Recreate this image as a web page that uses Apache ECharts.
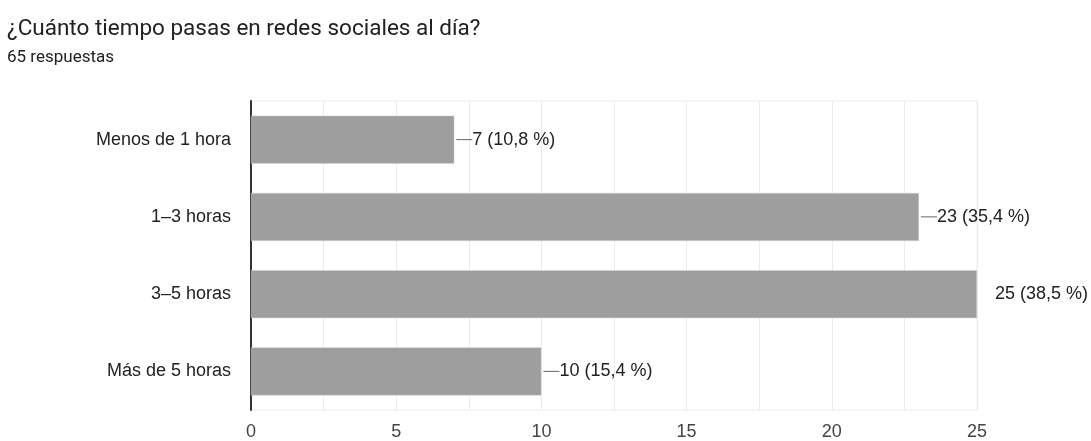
<!DOCTYPE html>
<html>
<head>
<meta charset="utf-8">
<script src="https://cdn.jsdelivr.net/npm/echarts@6/dist/echarts.min.js"></script>
<style>
html,body{margin:0;padding:0;background:#fff;}
#c{width:1091px;height:441px;}
</style>
</head>
<body>
<div id="c"></div>
<script>
var categories = ['Menos de 1 hora', '1–3 horas', '3–5 horas', 'Más de 5 horas'];
var counts = [7, 23, 25, 10];
var percentLabels = ['10,8 %', '35,4 %', '38,5 %', '15,4 %'];
var xTicks = [0, 5, 10, 15, 20, 25];
var xMax = 25;

var chart = echarts.init(document.getElementById('c'));
chart.setOption({
  animation: false,
  backgroundColor: '#ffffff',
  textStyle: { fontFamily: 'Liberation Sans' },
  title: {
    text: '¿Cuánto tiempo pasas en redes sociales al día?',
    subtext: '65 respuestas',
    left: 2, top: 13,
    itemGap: 8,
    textStyle: { fontFamily: 'Roboto', fontSize: 22.5, fontWeight: 'normal', color: '#202124' },
    subtextStyle: { fontFamily: 'Roboto', fontSize: 17, color: '#202124' }
  },
  grid: {
    left: 251, right: 114, top: 101, bottom: 28,
    show: true, borderColor: '#ececec', borderWidth: 1
  },
  xAxis: {
    type: 'value', min: 0, max: xMax, interval: 2.5,
    axisLine: { show: false },
    axisTick: { show: false },
    splitLine: { lineStyle: { color: '#ececec', width: 1 } },
    axisLabel: {
      margin: 13, fontSize: 18, color: '#444', fontFamily: 'Liberation Sans',
      formatter: function (v) { return xTicks.indexOf(v) >= 0 ? String(v) : ''; }
    }
  },
  yAxis: {
    type: 'category', data: categories, inverse: true,
    axisLine: { show: true, lineStyle: { color: '#333', width: 2 } },
    axisTick: { show: false },
    axisLabel: { margin: 20, fontSize: 18, color: '#222', fontFamily: 'Liberation Sans' }
  },
  series: [{
    type: 'bar',
    data: counts,
    barWidth: 48,
    itemStyle: { color: '#9e9e9e', borderColor: '#d0d0d0', borderWidth: 0.5 },
    label: {
      show: true, position: 'right', distance: 2,
      fontFamily: 'Liberation Sans', fontSize: 18, color: '#222',
      formatter: function (p) {
        var stem = p.value >= xMax ? '{e|}' : '{d|}';
        return stem + p.value + ' (' + percentLabels[p.dataIndex] + ')';
      },
      rich: {
        d: { width: 16, height: 1, backgroundColor: '#666' },
        e: { width: 16, height: 1, backgroundColor: 'transparent' }
      }
    }
  }]
});
</script>
</body>
</html>
